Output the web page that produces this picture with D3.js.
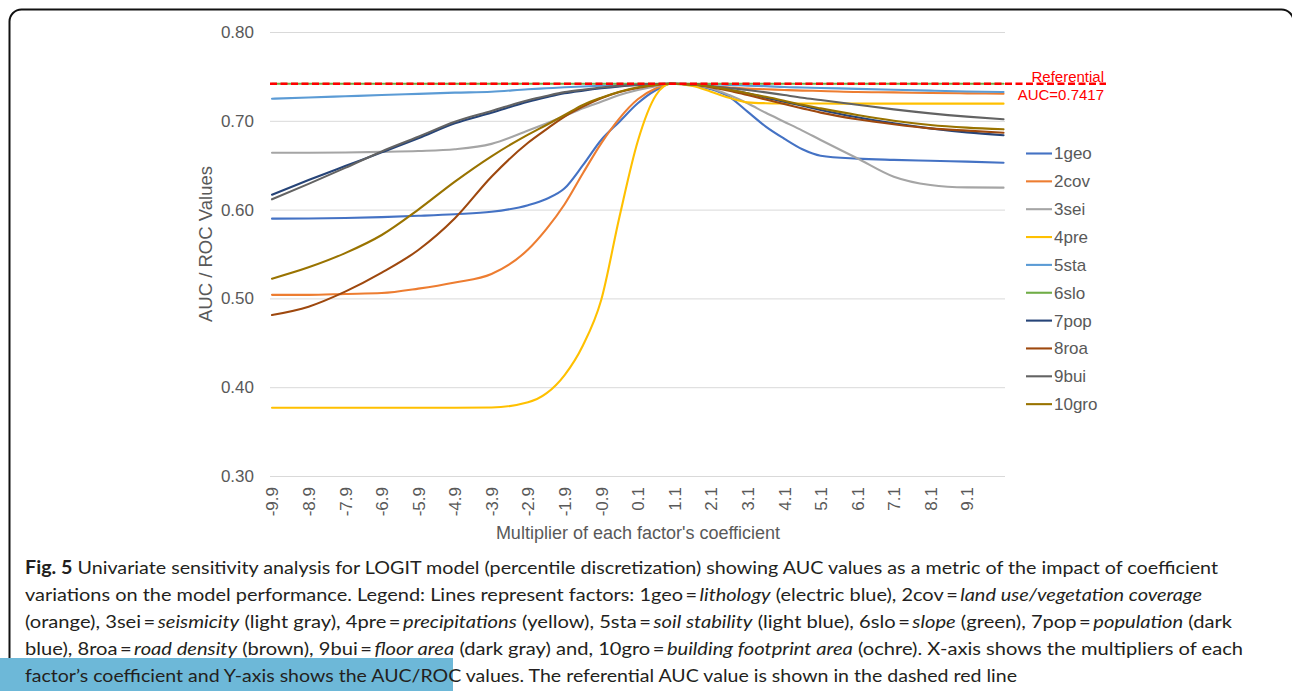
<!DOCTYPE html>
<html>
<head>
<meta charset="utf-8">
<script src="https://cdn.jsdelivr.net/npm/d3@7"></script>
<style>
  body { margin: 0; background: #fff; }
  svg { display: block; }
</style>
</head>
<body>
<svg id="fig" width="1292" height="691"></svg>
<script>
// Coefficient multipliers at which the AUC was sampled
const multipliers = [-9.9,-8.9,-7.9,-6.9,-5.9,-4.9,-3.9,-2.9,-2.4,-1.9,-1.4,-0.9,-0.4,0.1,0.6,1.0,1.6,2.1,2.6,3.1,3.6,4.1,4.6,5.1,6.1,7.1,8.1,9.1,10.1];

// AUC / ROC per factor
const geo = [0.5898,0.5900,0.5905,0.5915,0.5930,0.5948,0.5975,0.6050,0.6120,0.6240,0.6500,0.6784,0.6990,0.7197,0.7347,0.7417,0.7400,0.7355,0.7270,0.7103,0.6935,0.6800,0.6680,0.6607,0.6574,0.6560,0.6550,0.6540,0.6528];
const cov = [0.5040,0.5040,0.5050,0.5060,0.5110,0.5180,0.5275,0.5550,0.5780,0.6060,0.6409,0.6746,0.7028,0.7242,0.7366,0.7417,0.7412,0.7388,0.7375,0.7362,0.7355,0.7347,0.7340,0.7336,0.7324,0.7320,0.7313,0.7309,0.7305];
const sei = [0.6640,0.6640,0.6643,0.6650,0.6660,0.6680,0.6740,0.6890,0.6970,0.7054,0.7140,0.7215,0.7290,0.7347,0.7390,0.7417,0.7405,0.7366,0.7290,0.7197,0.7090,0.6990,0.6890,0.6784,0.6578,0.6370,0.6277,0.6250,0.6247];
const pre = [0.3769,0.3769,0.3769,0.3769,0.3769,0.3769,0.3772,0.3830,0.3930,0.4137,0.4470,0.4982,0.5920,0.6770,0.7290,0.7417,0.7392,0.7328,0.7260,0.7208,0.7198,0.7195,0.7194,0.7194,0.7193,0.7193,0.7193,0.7193,0.7193];
const sta = [0.7249,0.7262,0.7276,0.7290,0.7303,0.7317,0.7327,0.7355,0.7366,0.7377,0.7387,0.7395,0.7400,0.7408,0.7413,0.7417,0.7415,0.7410,0.7405,0.7395,0.7390,0.7380,0.7375,0.7370,0.7360,0.7350,0.7340,0.7330,0.7324];
const slo = [0.7417,0.7417,0.7417,0.7417,0.7417,0.7417,0.7417,0.7417,0.7417,0.7417,0.7417,0.7417,0.7417,0.7417,0.7417,0.7417,0.7417,0.7417,0.7417,0.7417,0.7417,0.7417,0.7417,0.7417,0.7417,0.7417,0.7417,0.7417,0.7417];
const pop = [0.6168,0.6333,0.6490,0.6645,0.6803,0.6972,0.7091,0.7215,0.7265,0.7310,0.7340,0.7366,0.7387,0.7403,0.7413,0.7417,0.7410,0.7385,0.7350,0.7310,0.7260,0.7215,0.7170,0.7122,0.7040,0.6972,0.6915,0.6870,0.6837];
const roa = [0.4813,0.4907,0.5076,0.5290,0.5545,0.5902,0.6370,0.6753,0.6904,0.7047,0.7159,0.7253,0.7324,0.7370,0.7405,0.7417,0.7410,0.7377,0.7340,0.7290,0.7240,0.7189,0.7140,0.7092,0.7017,0.6961,0.6915,0.6889,0.6866];
const bui = [0.6116,0.6290,0.6470,0.6655,0.6820,0.6990,0.7110,0.7232,0.7280,0.7323,0.7350,0.7375,0.7393,0.7405,0.7414,0.7417,0.7413,0.7392,0.7370,0.7347,0.7320,0.7290,0.7260,0.7234,0.7181,0.7129,0.7084,0.7047,0.7017];
const gro = [0.5222,0.5350,0.5510,0.5714,0.6000,0.6315,0.6600,0.6845,0.6953,0.7065,0.7178,0.7260,0.7328,0.7377,0.7405,0.7417,0.7410,0.7385,0.7350,0.7310,0.7270,0.7226,0.7180,0.7140,0.7065,0.7001,0.6953,0.6923,0.6904];

const seriesNames = ["1geo","2cov","3sei","4pre","5sta","6slo","7pop","8roa","9bui","10gro"];
const seriesValues = [geo, cov, sei, pre, sta, slo, pop, roa, bui, gro];
const seriesColors = ["#4472C4","#ED7D31","#A5A5A5","#FFC000","#5B9BD5","#70AD47","#264478","#9E480E","#636363","#997300"];

const referentialAUC = 0.7417;

const yTicks = [0.30, 0.40, 0.50, 0.60, 0.70, 0.80];
const xTickLabels = ["-9.9","-8.9","-7.9","-6.9","-5.9","-4.9","-3.9","-2.9","-1.9","-0.9","0.1","1.1","2.1","3.1","4.1","5.1","6.1","7.1","8.1","9.1"];

const captionLines = [
  [["Fig. 5", "b"], [" Univariate sensitivity analysis for LOGIT model (percentile discretization) showing AUC values as a metric of the impact of coefficient", "n"]],
  [["variations on the model performance. Legend: Lines represent factors: 1geo\u2009=\u2009", "n"], ["lithology", "i"], [" (electric blue), 2cov\u2009=\u2009", "n"], ["land use/vegetation coverage", "i"]],
  [["(orange), 3sei\u2009=\u2009", "n"], ["seismicity", "i"], [" (light gray), 4pre\u2009=\u2009", "n"], ["precipitations", "i"], [" (yellow), 5sta\u2009=\u2009", "n"], ["soil stability", "i"], [" (light blue), 6slo\u2009=\u2009", "n"], ["slope", "i"], [" (green), 7pop\u2009=\u2009", "n"], ["population", "i"], [" (dark", "n"]],
  [["blue), 8roa\u2009=\u2009", "n"], ["road density", "i"], [" (brown), 9bui\u2009=\u2009", "n"], ["floor area", "i"], [" (dark gray) and, 10gro\u2009=\u2009", "n"], ["building footprint area", "i"], [" (ochre). X-axis shows the multipliers of each", "n"]],
  [["factor\u2019s coefficient and Y-axis shows the AUC/ROC values. The referential AUC value is shown in the dashed red line", "n"]]
];
const captionWidths = [1193, 1177, 1207, 1218, 992];

const svg = d3.select("#fig");
const chartFont = "'Liberation Sans', Arial, sans-serif";
const axisGray = "#595959";

// outer panel frame
svg.append("rect")
  .attr("x", 9.5).attr("y", 9.5)
  .attr("width", 1284).attr("height", 760)
  .attr("rx", 12).attr("ry", 12)
  .attr("fill", "none").attr("stroke", "#111").attr("stroke-width", 2);

const x = d3.scaleLinear().domain([-9.955, 10.14]).range([270, 1005]);
const y = d3.scaleLinear().domain([0.30, 0.80]).range([476, 32]);

// horizontal gridlines + y labels
const yAxis = svg.append("g")
  .attr("transform", "translate(270,0)")
  .call(d3.axisLeft(y).tickValues(yTicks).tickFormat(d3.format(".2f"))
    .tickSize(-(x.range()[1] - x.range()[0])).tickPadding(16));
yAxis.select(".domain").remove();
yAxis.selectAll(".tick line").attr("stroke", "#d9d9d9").attr("stroke-width", 1);
yAxis.selectAll(".tick text")
  .attr("fill", axisGray).style("font-family", chartFont).style("font-size", "17px");

// category labels, rotated
const xAxis = svg.append("g")
  .attr("transform", "translate(0,476)")
  .call(d3.axisBottom(x).tickValues(xTickLabels.map(Number))
    .tickFormat((d, i) => xTickLabels[i]).tickSize(0));
xAxis.select(".domain").remove();
xAxis.selectAll(".tick text")
  .attr("transform", "rotate(-90)")
  .attr("x", -11).attr("y", 0).attr("dy", "0.35em")
  .attr("text-anchor", "end")
  .attr("fill", axisGray).style("font-family", chartFont).style("font-size", "17px");

// axis titles
svg.append("text")
  .attr("transform", "translate(212,244) rotate(-90)")
  .attr("text-anchor", "middle")
  .attr("fill", axisGray).style("font-family", chartFont).style("font-size", "18.5px")
  .text("AUC / ROC Values");
svg.append("text")
  .attr("x", 638).attr("y", 539)
  .attr("text-anchor", "middle")
  .attr("fill", axisGray).style("font-family", chartFont).style("font-size", "18px")
  .text("Multiplier of each factor's coefficient");

// series
const line = d3.line()
  .x((d, i) => x(multipliers[i]))
  .y(d => y(d))
  .curve(d3.curveMonotoneX);

svg.append("g").selectAll("path")
  .data(seriesValues)
  .join("path")
  .attr("d", d => line(d))
  .attr("fill", "none")
  .attr("stroke", (d, i) => seriesColors[i])
  .attr("stroke-width", 2.1)
  .attr("stroke-linejoin", "round")
  .attr("stroke-linecap", "round");

// referential AUC
svg.append("line")
  .attr("x1", 270).attr("x2", 1106)
  .attr("y1", y(referentialAUC)).attr("y2", y(referentialAUC))
  .attr("stroke", "#FF0000").attr("stroke-width", 2.5)
  .attr("stroke-dasharray", "7,3.5");
svg.append("text")
  .attr("x", 1104).attr("y", y(referentialAUC) - 2)
  .attr("text-anchor", "end")
  .attr("fill", "#FF0000").style("font-family", chartFont).style("font-size", "15px")
  .text("Referential");
svg.append("text")
  .attr("x", 1104).attr("y", y(referentialAUC) + 16)
  .attr("text-anchor", "end")
  .attr("fill", "#FF0000").style("font-family", chartFont).style("font-size", "15px")
  .text("AUC=" + referentialAUC.toFixed(4));

// legend
const legend = svg.append("g").attr("transform", "translate(1026,153.5)");
const rows = legend.selectAll("g").data(seriesNames).join("g")
  .attr("transform", (d, i) => `translate(0,${i * 27.85})`);
rows.append("line")
  .attr("x1", 0).attr("x2", 26).attr("y1", 0).attr("y2", 0)
  .attr("stroke", (d, i) => seriesColors[i]).attr("stroke-width", 2.1);
rows.append("text")
  .attr("x", 28).attr("dy", "0.35em")
  .attr("fill", axisGray).style("font-family", chartFont).style("font-size", "17px")
  .text(d => d);

// caption
svg.append("rect")
  .attr("x", 0).attr("y", 658).attr("width", 453).attr("height", 33)
  .attr("fill", "#6DB8D8");

const caption = svg.append("g")
  .style("font-family", "Lato, 'Open Sans', sans-serif")
  .style("font-size", "18px")
  .attr("fill", "#231f20");
captionLines.forEach((parts, li) => {
  const t = caption.append("text")
    .attr("x", 25).attr("y", 574 + li * 27)
    .attr("textLength", captionWidths[li])
    .attr("lengthAdjust", "spacingAndGlyphs");
  parts.forEach(([str, kind]) => {
    const s = t.append("tspan").text(str);
    if (kind === "b") s.style("font-weight", "bold");
    if (kind === "i") s.style("font-style", "italic");
  });
});
</script>
</body>
</html>
